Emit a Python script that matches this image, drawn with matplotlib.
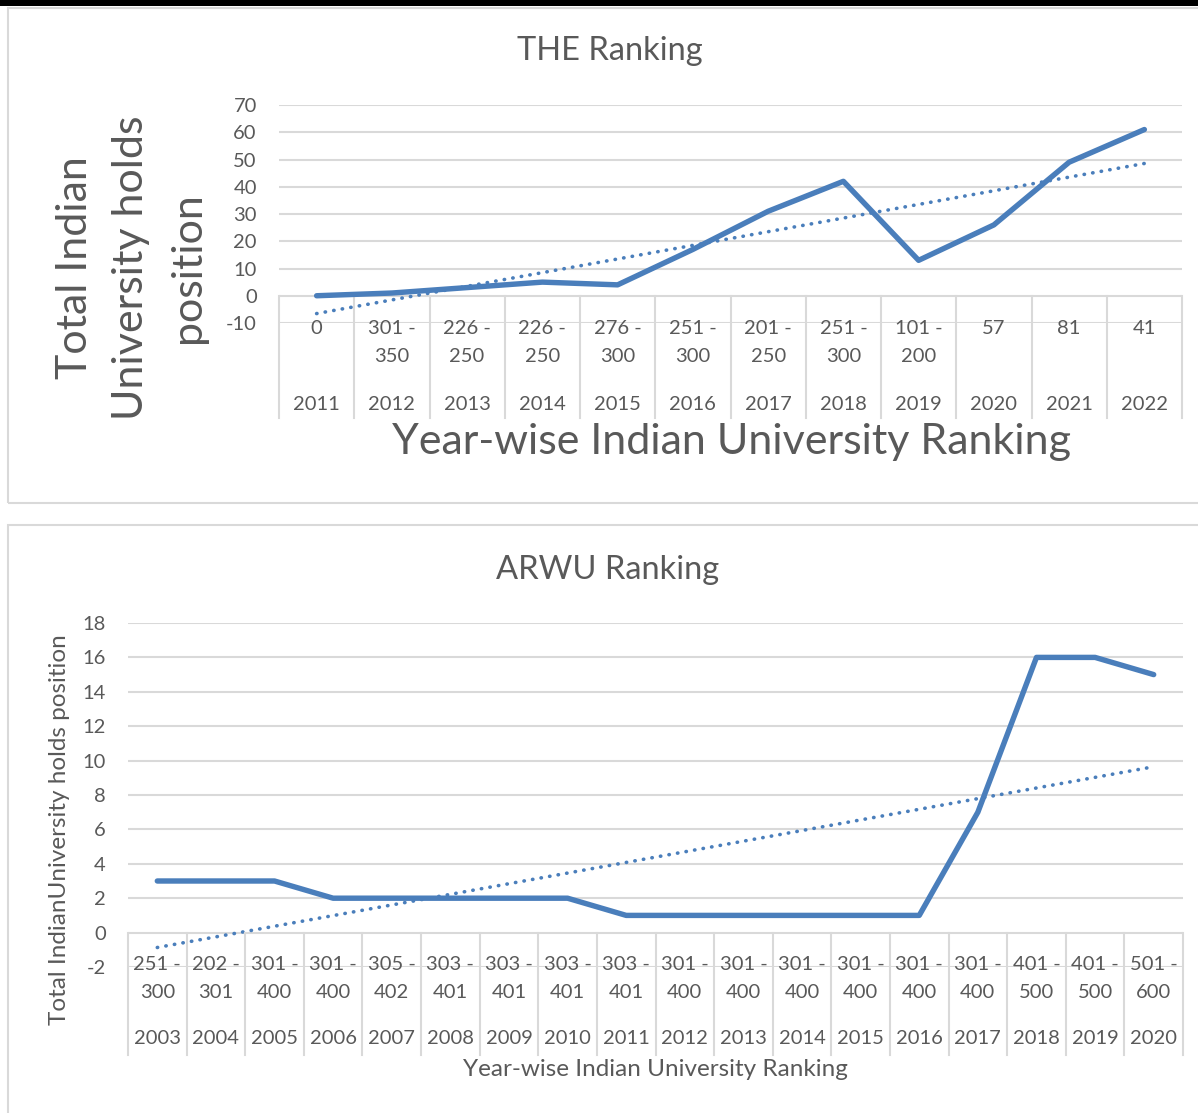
import numpy as np
import matplotlib.pyplot as plt
from matplotlib.patches import Rectangle
from matplotlib.transforms import blended_transform_factory

plt.rcParams['font.family'] = ['Lato', 'DejaVu Sans']
plt.rcParams['axes.unicode_minus'] = False

# %%
# THE ranking data
the_years = ['2011', '2012', '2013', '2014', '2015', '2016',
             '2017', '2018', '2019', '2020', '2021', '2022']
the_ranks = ['0', '301 - 350', '226 - 250', '226 - 250', '276 - 300', '251 - 300',
             '201 - 250', '251 - 300', '101 - 200', '57', '81', '41']
the_counts = [0, 1, 3, 5, 4, 17, 31, 42, 13, 26, 49, 61]

# ARWU ranking data
arwu_years = ['2003', '2004', '2005', '2006', '2007', '2008', '2009', '2010', '2011',
              '2012', '2013', '2014', '2015', '2016', '2017', '2018', '2019', '2020']
arwu_ranks = ['251 - 300', '202 - 301', '301 - 400', '301 - 400', '305 - 402',
              '303 - 401', '303 - 401', '303 - 401', '303 - 401', '301 - 400',
              '301 - 400', '301 - 400', '301 - 400', '301 - 400', '301 - 400',
              '401 - 500', '401 - 500', '501 - 600']
arwu_counts = [3, 3, 3, 2, 2, 2, 2, 2, 1, 1, 1, 1, 1, 1, 7, 16, 16, 15]

# %%
W, H = 1198, 1113
LINE = '#4A7EBB'
GRID = '#D9D9D9'
TEXT = '#595959'

fig = plt.figure(figsize=(W / 100, H / 100), dpi=100)
fig.patch.set_facecolor('white')


def fy(y_px):
    return 1 - y_px / H


# black bar on top and the two chart frames
fig.patches.append(Rectangle((0, fy(6)), 1, 6 / H, transform=fig.transFigure,
                             facecolor='black', edgecolor='none'))
fig.patches.append(Rectangle((8 / W, fy(503)), 1.1, (503 - 8) / H, transform=fig.transFigure,
                             facecolor='none', edgecolor=GRID, lw=1.5))
fig.patches.append(Rectangle((8 / W, fy(1130)), 1.1, (1130 - 525) / H, transform=fig.transFigure,
                             facecolor='none', edgecolor=GRID, lw=1.5))


def panel(left, right, top, bottom, years, ranks, counts, ylim, ystep,
          row_y, sep_bottom, fs):
    ax = fig.add_axes([left / W, fy(bottom), (right - left) / W, (bottom - top) / H])
    x = np.arange(len(years))
    ax.plot(x, counts, color=LINE, lw=3.9, solid_capstyle='round',
            solid_joinstyle='round', zorder=3)
    # linear trendline
    k, b = np.polyfit(x, counts, 1)
    ax.plot(x, k * x + b, color=LINE, lw=2.6, linestyle=(0, (0.1, 2.3)),
            dash_capstyle='round', zorder=2)

    ax.set_xlim(-0.5, len(years) - 0.5)
    ax.set_ylim(*ylim)
    ax.set_yticks(np.arange(ylim[0], ylim[1] + ystep / 2, ystep))
    ax.set_xticks([])
    ax.yaxis.grid(True, color=GRID, lw=1.5)
    ax.set_axisbelow(True)
    for s in ax.spines.values():
        s.set_visible(False)
    ax.tick_params(axis='y', length=0, pad=16, labelsize=fs, labelcolor=TEXT)

    # multi-level category labels
    tr = blended_transform_factory(ax.transData, fig.transFigure)
    y0 = ax.transData.transform((0, 0))[1] / H
    for i in range(len(years) + 1):
        ax.plot([i - 0.5, i - 0.5], [y0, fy(sep_bottom)], transform=tr,
                color=GRID, lw=1.5, clip_on=False)
    for i, (yr, rk) in enumerate(zip(years, ranks)):
        parts = rk.split(' - ')
        if len(parts) == 2:
            ax.text(i, fy(row_y[0]), parts[0] + ' -', transform=tr, ha='center',
                    va='center', fontsize=fs, color=TEXT)
            ax.text(i, fy(row_y[1]), parts[1], transform=tr, ha='center',
                    va='center', fontsize=fs, color=TEXT)
        else:
            ax.text(i, fy(row_y[0]), rk, transform=tr, ha='center',
                    va='center', fontsize=fs, color=TEXT)
        ax.text(i, fy(row_y[2]), yr, transform=tr, ha='center',
                va='center', fontsize=fs, color=TEXT)
    return ax


# %%
# THE Ranking
ax1 = panel(279, 1182, 105, 323, the_years, the_ranks, the_counts,
            (-10, 70), 10, (328, 357, 404), 418, 14.5)
fig.text(610 / W, fy(51), 'THE Ranking', ha='center', va='center',
         fontsize=23.5, color=TEXT)
fig.text(732 / W, fy(442), 'Year-wise Indian University Ranking', ha='center',
         va='center', fontsize=31, color=TEXT)
for xp, s in zip((75, 131, 188), ('Total Indian', 'University holds', 'position')):
    fig.text(xp / W, fy(268), s, ha='center', va='center', rotation=90,
             fontsize=31, color=TEXT)

# ARWU Ranking
ax2 = panel(128, 1183, 623, 967, arwu_years, arwu_ranks, arwu_counts,
            (-2, 18), 2, (964, 993, 1039), 1055, 14.5)
fig.text(608 / W, fy(570), 'ARWU Ranking', ha='center', va='center',
         fontsize=23.5, color=TEXT)
fig.text(655 / W, fy(1069), 'Year-wise Indian University Ranking', ha='center',
         va='center', fontsize=17.5, color=TEXT)
fig.text(60 / W, fy(830), 'Total IndianUniversity holds position', ha='center',
         va='center', rotation=90, fontsize=17.5, color=TEXT)

fig.savefig('out.png', dpi=100, facecolor='white')
